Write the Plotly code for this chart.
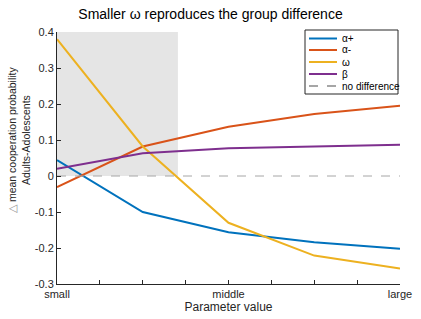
import plotly.graph_objects as go

x_pos = [1, 3, 5, 7, 9]
alpha_plus = [0.044, -0.100, -0.156, -0.184, -0.202]
alpha_minus = [-0.031, 0.082, 0.137, 0.172, 0.195]
omega = [0.380, 0.082, -0.130, -0.221, -0.257]
beta = [0.020, 0.063, 0.077, 0.083, 0.087]

x_tickvals = [1, 2, 3, 4, 5, 6, 7, 8, 9]
x_ticktext = ["small", "", "", "", "middle", "", "", "", "large"]
y_tickvals = [-0.3, -0.2, -0.1, 0, 0.1, 0.2, 0.3, 0.4]
y_ticktext = ["-0.3", "-0.2", "-0.1", "0", "0.1", "0.2", "0.3", "0.4"]
shade_x = [1, 3.82]
shade_y = [0, 0.4]

legend_names = ["α+", "α-", "ω", "β", "no difference"]
colors = ["#0072BD", "#D95319", "#EDB120", "#7E2F8E", "#a6a6a6"]

fig = go.Figure()
fig.add_shape(type="rect", x0=shade_x[0], x1=shade_x[1], y0=shade_y[0], y1=shade_y[1],
              fillcolor="#e5e5e5", line=dict(width=0), layer="below")

for name, vals, col in zip(legend_names[:4], [alpha_plus, alpha_minus, omega, beta], colors[:4]):
    fig.add_trace(go.Scatter(x=x_pos, y=vals, mode="lines", name=name,
                             line=dict(color=col, width=2), showlegend=False))
fig.add_trace(go.Scatter(x=[x_tickvals[0], x_tickvals[-1]], y=[0, 0], mode="lines",
                         name=legend_names[4], showlegend=False,
                         line=dict(color=colors[4], width=1, dash="dash")))

W, H = 421, 319
L, R, T, B = 57, 21, 32, 35
pw, ph = W - L - R, H - T - B
def px(x):
    return (x - L) / pw
def py(y):
    return 1 - (y - T) / ph

# compact MATLAB-style legend
fig.add_shape(type="rect", xref="paper", yref="paper",
              x0=px(305), x1=px(398), y0=py(94), y1=py(30),
              fillcolor="white", line=dict(color="#262626", width=1), layer="above")
row_y = [38.5, 50, 62, 74, 86]
for i, (nm, col) in enumerate(zip(legend_names, colors)):
    dash = "dash" if i == 4 else "solid"
    fig.add_shape(type="line", xref="paper", yref="paper",
                  x0=px(309), x1=px(337), y0=py(row_y[i]), y1=py(row_y[i]),
                  line=dict(color=col, width=2, dash=dash), layer="above")
    fig.add_annotation(xref="paper", yref="paper", x=px(340), y=py(row_y[i]),
                       text=nm, showarrow=False, xanchor="left", yanchor="middle",
                       font=dict(size=10, color="#000000"))

# y-axis title (two lines)
fig.add_annotation(xref="paper", yref="paper", x=px(19), y=py(140),
                   text="<span style='color:#999999'>△</span> mean cooperation probability<br>Adults-Adolescents",
                   textangle=-90, showarrow=False, xanchor="center", yanchor="middle",
                   font=dict(size=10.5, color="#262626"))

fig.update_layout(
    width=W, height=H,
    margin=dict(l=L, r=R, t=T, b=B),
    paper_bgcolor="white", plot_bgcolor="white",
    font=dict(family="Liberation Sans, Arial, sans-serif", color="#262626", size=11),
    title=dict(text="Smaller ω reproduces the group difference", x=0.5, xanchor="center",
               y=0.955, yanchor="middle", font=dict(size=14, color="#000000")),
    showlegend=False,
    xaxis=dict(range=[1, 9], tickvals=x_tickvals, ticktext=x_ticktext,
               ticks="inside", ticklen=4, tickcolor="#262626",
               showline=True, linecolor="#262626", linewidth=1,
               showgrid=False, zeroline=False, automargin=False,
               title=dict(text="Parameter value", font=dict(size=12), standoff=2),
               tickfont=dict(size=11)),
    yaxis=dict(range=[-0.3, 0.4], tickvals=y_tickvals, ticktext=y_ticktext,
               ticks="inside", ticklen=4, tickcolor="#262626",
               showline=True, linecolor="#262626", linewidth=1,
               showgrid=False, zeroline=False, automargin=False,
               tickfont=dict(size=11)),
)

fig.write_html("out.html", config={"displayModeBar": False},
               post_script="document.body.style.margin='0px';")
